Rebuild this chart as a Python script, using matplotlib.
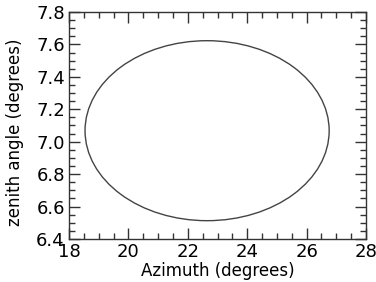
import matplotlib
matplotlib.use('Agg')
import matplotlib.pyplot as plt
from matplotlib.patches import Ellipse
from matplotlib.ticker import MultipleLocator

# ellipse (degrees)
center_az = 22.65
center_zen = 7.068
width_az = 8.22
height_zen = 1.11

x_ticks = [18, 20, 22, 24, 26, 28]
y_ticks = [6.4, 6.6, 6.8, 7.0, 7.2, 7.4, 7.6, 7.8]

fig = plt.figure(figsize=(3.76, 2.82), dpi=100)
ax = fig.add_axes([69 / 376, 1 - 239 / 282, 297 / 376, 227 / 282])

ell = Ellipse((center_az, center_zen), width_az, height_zen,
              fill=False, edgecolor='#444444', linewidth=1.0)
ax.add_patch(ell)

ax.set_xlim(x_ticks[0], x_ticks[-1])
ax.set_ylim(y_ticks[0], y_ticks[-1])
ax.set_xticks(x_ticks)
ax.set_yticks(y_ticks)
ax.set_xticklabels([str(t) for t in x_ticks])
ax.set_yticklabels(['%.1f' % t for t in y_ticks])
ax.xaxis.set_minor_locator(MultipleLocator(0.5))
ax.yaxis.set_minor_locator(MultipleLocator(0.05))
ax.tick_params(which='both', direction='in', top=True, right=True,
               color='#333333', width=1)
ax.tick_params(which='major', length=8, labelsize=13, pad=3)
ax.tick_params(which='minor', length=4)
for s in ax.spines.values():
    s.set_color('#333333')
    s.set_linewidth(1)

ax.set_xlabel('Azimuth (degrees)', fontsize=12)
ax.set_ylabel('zenith angle (degrees)', fontsize=12)
ax.xaxis.set_label_coords(0.5, -0.1)
ax.yaxis.set_label_coords(-0.15, 0.47)

fig.savefig('out.png', dpi=100)
